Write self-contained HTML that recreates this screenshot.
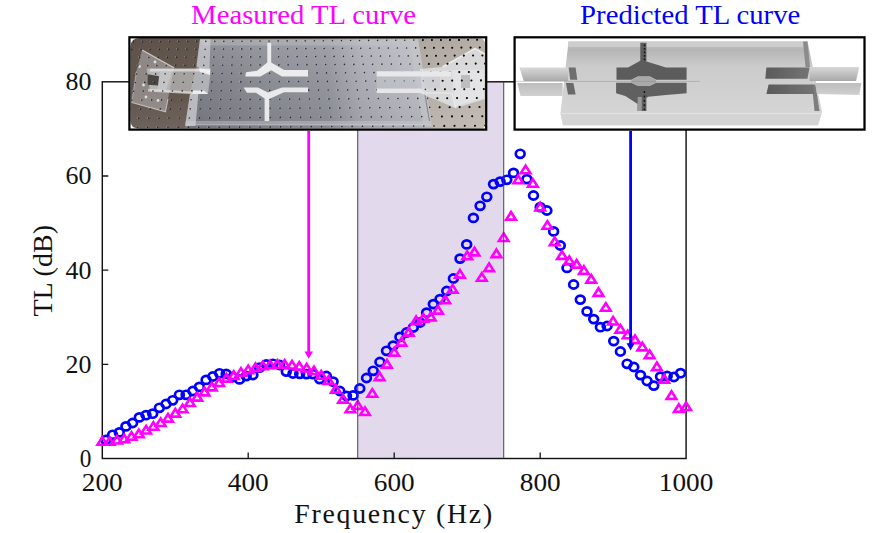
<!DOCTYPE html>
<html lang="en">
<head>
<meta charset="utf-8">
<title>Measured and predicted TL curves</title>
<style>
html,body{margin:0;padding:0;background:#fff;}
body{width:880px;height:533px;overflow:hidden;font-family:"Liberation Serif","Times New Roman",serif;}
svg{display:block;position:absolute;left:0;top:0;}
</style>
</head>
<body>
<svg width="880" height="533" viewBox="0 0 880 533">
<rect width="880" height="533" fill="#ffffff"/>
<rect x="357.7" y="81.8" width="146.0" height="376.7" fill="#e3d9ed"/>
<rect x="102.3" y="81.8" width="583.8" height="376.7" fill="none" stroke="#141414" stroke-width="1.45"/>
<path d="M248.2 458.5v-6M394.2 458.5v-6M540.2 458.5v-6M102.3 364.3h6M102.3 270.1h6M102.3 176.0h6" stroke="#141414" stroke-width="1.3" fill="none"/>
<g fill="none" stroke="#0000ff" stroke-width="2.7">
<ellipse cx="105.9" cy="440.0" rx="4.4" ry="4.05"/>
<ellipse cx="112.6" cy="434.8" rx="4.4" ry="4.05"/>
<ellipse cx="119.3" cy="432.4" rx="4.4" ry="4.05"/>
<ellipse cx="125.9" cy="426.4" rx="4.4" ry="4.05"/>
<ellipse cx="132.6" cy="423.0" rx="4.4" ry="4.05"/>
<ellipse cx="139.3" cy="417.4" rx="4.4" ry="4.05"/>
<ellipse cx="146.0" cy="415.2" rx="4.4" ry="4.05"/>
<ellipse cx="152.7" cy="413.7" rx="4.4" ry="4.05"/>
<ellipse cx="159.4" cy="407.8" rx="4.4" ry="4.05"/>
<ellipse cx="166.0" cy="404.0" rx="4.4" ry="4.05"/>
<ellipse cx="172.7" cy="400.3" rx="4.4" ry="4.05"/>
<ellipse cx="179.4" cy="394.8" rx="4.4" ry="4.05"/>
<ellipse cx="186.1" cy="394.8" rx="4.4" ry="4.05"/>
<ellipse cx="192.8" cy="391.0" rx="4.4" ry="4.05"/>
<ellipse cx="199.4" cy="386.9" rx="4.4" ry="4.05"/>
<ellipse cx="206.1" cy="379.9" rx="4.4" ry="4.05"/>
<ellipse cx="212.8" cy="376.5" rx="4.4" ry="4.05"/>
<ellipse cx="219.5" cy="373.3" rx="4.4" ry="4.05"/>
<ellipse cx="226.2" cy="373.9" rx="4.4" ry="4.05"/>
<ellipse cx="232.9" cy="377.0" rx="4.4" ry="4.05"/>
<ellipse cx="239.5" cy="379.4" rx="4.4" ry="4.05"/>
<ellipse cx="246.2" cy="376.1" rx="4.4" ry="4.05"/>
<ellipse cx="252.9" cy="375.0" rx="4.4" ry="4.05"/>
<ellipse cx="259.6" cy="367.6" rx="4.4" ry="4.05"/>
<ellipse cx="266.3" cy="364.5" rx="4.4" ry="4.05"/>
<ellipse cx="273.0" cy="363.8" rx="4.4" ry="4.05"/>
<ellipse cx="279.6" cy="365.0" rx="4.4" ry="4.05"/>
<ellipse cx="286.3" cy="371.6" rx="4.4" ry="4.05"/>
<ellipse cx="293.0" cy="373.5" rx="4.4" ry="4.05"/>
<ellipse cx="299.7" cy="373.8" rx="4.4" ry="4.05"/>
<ellipse cx="306.4" cy="374.1" rx="4.4" ry="4.05"/>
<ellipse cx="313.0" cy="374.1" rx="4.4" ry="4.05"/>
<ellipse cx="319.7" cy="379.1" rx="4.4" ry="4.05"/>
<ellipse cx="326.4" cy="376.0" rx="4.4" ry="4.05"/>
<ellipse cx="333.1" cy="381.6" rx="4.4" ry="4.05"/>
<ellipse cx="339.8" cy="391.0" rx="4.4" ry="4.05"/>
<ellipse cx="346.5" cy="396.0" rx="4.4" ry="4.05"/>
<ellipse cx="353.1" cy="395.4" rx="4.4" ry="4.05"/>
<ellipse cx="359.8" cy="388.5" rx="4.4" ry="4.05"/>
<ellipse cx="366.5" cy="378.0" rx="4.4" ry="4.05"/>
<ellipse cx="373.2" cy="370.8" rx="4.4" ry="4.05"/>
<ellipse cx="379.9" cy="362.0" rx="4.4" ry="4.05"/>
<ellipse cx="386.5" cy="350.8" rx="4.4" ry="4.05"/>
<ellipse cx="393.2" cy="345.6" rx="4.4" ry="4.05"/>
<ellipse cx="399.9" cy="336.9" rx="4.4" ry="4.05"/>
<ellipse cx="406.6" cy="332.5" rx="4.4" ry="4.05"/>
<ellipse cx="413.3" cy="327.5" rx="4.4" ry="4.05"/>
<ellipse cx="420.0" cy="322.5" rx="4.4" ry="4.05"/>
<ellipse cx="426.6" cy="312.7" rx="4.4" ry="4.05"/>
<ellipse cx="433.3" cy="304.1" rx="4.4" ry="4.05"/>
<ellipse cx="440.0" cy="299.1" rx="4.4" ry="4.05"/>
<ellipse cx="446.7" cy="291.0" rx="4.4" ry="4.05"/>
<ellipse cx="453.4" cy="278.5" rx="4.4" ry="4.05"/>
<ellipse cx="460.0" cy="258.6" rx="4.4" ry="4.05"/>
<ellipse cx="466.7" cy="244.4" rx="4.4" ry="4.05"/>
<ellipse cx="473.4" cy="217.9" rx="4.4" ry="4.05"/>
<ellipse cx="480.1" cy="205.8" rx="4.4" ry="4.05"/>
<ellipse cx="486.8" cy="196.8" rx="4.4" ry="4.05"/>
<ellipse cx="493.5" cy="184.1" rx="4.4" ry="4.05"/>
<ellipse cx="500.1" cy="181.6" rx="4.4" ry="4.05"/>
<ellipse cx="506.8" cy="179.8" rx="4.4" ry="4.05"/>
<ellipse cx="513.5" cy="172.9" rx="4.4" ry="4.05"/>
<ellipse cx="520.2" cy="153.8" rx="4.4" ry="4.05"/>
<ellipse cx="526.9" cy="179.1" rx="4.4" ry="4.05"/>
<ellipse cx="533.5" cy="195.5" rx="4.4" ry="4.05"/>
<ellipse cx="540.2" cy="207.2" rx="4.4" ry="4.05"/>
<ellipse cx="546.9" cy="210.5" rx="4.4" ry="4.05"/>
<ellipse cx="553.6" cy="231.4" rx="4.4" ry="4.05"/>
<ellipse cx="560.3" cy="245.5" rx="4.4" ry="4.05"/>
<ellipse cx="567.0" cy="267.9" rx="4.4" ry="4.05"/>
<ellipse cx="573.6" cy="284.5" rx="4.4" ry="4.05"/>
<ellipse cx="580.3" cy="299.6" rx="4.4" ry="4.05"/>
<ellipse cx="587.0" cy="311.4" rx="4.4" ry="4.05"/>
<ellipse cx="593.7" cy="319.1" rx="4.4" ry="4.05"/>
<ellipse cx="600.4" cy="327.2" rx="4.4" ry="4.05"/>
<ellipse cx="607.1" cy="326.0" rx="4.4" ry="4.05"/>
<ellipse cx="613.7" cy="341.1" rx="4.4" ry="4.05"/>
<ellipse cx="620.4" cy="351.5" rx="4.4" ry="4.05"/>
<ellipse cx="627.1" cy="363.8" rx="4.4" ry="4.05"/>
<ellipse cx="633.8" cy="367.0" rx="4.4" ry="4.05"/>
<ellipse cx="640.5" cy="375.1" rx="4.4" ry="4.05"/>
<ellipse cx="647.1" cy="381.0" rx="4.4" ry="4.05"/>
<ellipse cx="653.8" cy="385.6" rx="4.4" ry="4.05"/>
<ellipse cx="660.5" cy="376.6" rx="4.4" ry="4.05"/>
<ellipse cx="667.2" cy="376.0" rx="4.4" ry="4.05"/>
<ellipse cx="673.9" cy="377.0" rx="4.4" ry="4.05"/>
<ellipse cx="680.6" cy="373.2" rx="4.4" ry="4.05"/>
</g>
<g fill="none" stroke="#ff00ff" stroke-width="2.6" stroke-linejoin="miter">
<path d="M102.3 437.1L107.1 444.7H97.5Z"/>
<path d="M109.6 437.1L114.4 444.7H104.8Z"/>
<path d="M116.9 435.9L121.7 443.5H112.1Z"/>
<path d="M124.2 434.6L129.0 442.2H119.4Z"/>
<path d="M131.5 432.1L136.3 439.7H126.7Z"/>
<path d="M138.8 429.6L143.6 437.2H134.0Z"/>
<path d="M146.1 425.9L150.9 433.5H141.3Z"/>
<path d="M153.4 422.1L158.2 429.7H148.6Z"/>
<path d="M160.7 418.4L165.5 426.0H155.9Z"/>
<path d="M168.0 414.0L172.8 421.6H163.2Z"/>
<path d="M175.3 409.0L180.1 416.6H170.5Z"/>
<path d="M182.6 404.6L187.4 412.2H177.8Z"/>
<path d="M189.9 398.4L194.7 406.0H185.1Z"/>
<path d="M197.2 393.0L202.0 400.6H192.4Z"/>
<path d="M204.5 387.8L209.3 395.4H199.7Z"/>
<path d="M211.8 382.8L216.6 390.4H207.0Z"/>
<path d="M219.1 378.4L223.9 386.0H214.3Z"/>
<path d="M226.4 374.0L231.2 381.6H221.6Z"/>
<path d="M233.7 371.3L238.5 378.9H228.9Z"/>
<path d="M241.0 368.1L245.8 375.8H236.2Z"/>
<path d="M248.2 365.6L253.1 373.2H243.4Z"/>
<path d="M255.5 363.4L260.3 371.0H250.7Z"/>
<path d="M262.8 361.6L267.6 369.2H258.0Z"/>
<path d="M270.1 360.6L274.9 368.2H265.3Z"/>
<path d="M277.4 360.2L282.2 367.8H272.6Z"/>
<path d="M284.7 360.2L289.5 367.8H279.9Z"/>
<path d="M292.0 360.9L296.8 368.5H287.2Z"/>
<path d="M299.3 362.1L304.1 369.7H294.5Z"/>
<path d="M306.6 363.9L311.4 371.5H301.8Z"/>
<path d="M313.9 366.6L318.7 374.2H309.1Z"/>
<path d="M321.2 371.0L326.0 378.6H316.4Z"/>
<path d="M328.5 376.2L333.3 383.9H323.7Z"/>
<path d="M335.8 385.0L340.6 392.6H331.0Z"/>
<path d="M343.1 395.0L347.9 402.6H338.3Z"/>
<path d="M350.4 404.7L355.2 412.3H345.6Z"/>
<path d="M357.7 401.3L362.5 408.9H352.9Z"/>
<path d="M365.0 407.4L369.8 415.0H360.2Z"/>
<path d="M372.3 389.1L377.1 396.7H367.5Z"/>
<path d="M379.6 372.5L384.4 380.1H374.8Z"/>
<path d="M386.9 360.0L391.7 367.6H382.1Z"/>
<path d="M394.2 348.0L399.0 355.6H389.4Z"/>
<path d="M401.5 338.0L406.3 345.6H396.7Z"/>
<path d="M408.8 328.0L413.6 335.6H404.0Z"/>
<path d="M416.1 316.5L420.9 324.1H411.3Z"/>
<path d="M423.4 314.0L428.2 321.6H418.6Z"/>
<path d="M430.7 312.8L435.5 320.4H425.9Z"/>
<path d="M438.0 306.0L442.8 313.6H433.2Z"/>
<path d="M445.3 295.6L450.1 303.2H440.5Z"/>
<path d="M452.6 285.0L457.4 292.6H447.8Z"/>
<path d="M459.9 270.0L464.7 277.6H455.1Z"/>
<path d="M467.2 251.5L472.0 259.1H462.4Z"/>
<path d="M474.5 247.8L479.3 255.4H469.7Z"/>
<path d="M481.8 273.1L486.6 280.7H477.0Z"/>
<path d="M489.1 263.5L493.9 271.1H484.3Z"/>
<path d="M496.4 249.5L501.2 257.1H491.6Z"/>
<path d="M503.7 233.4L508.5 241.0H498.9Z"/>
<path d="M511.0 212.0L515.8 219.6H506.2Z"/>
<path d="M518.3 175.6L523.1 183.2H513.5Z"/>
<path d="M525.6 165.6L530.4 173.2H520.8Z"/>
<path d="M532.9 179.1L537.7 186.7H528.1Z"/>
<path d="M540.1 202.8L544.9 210.4H535.4Z"/>
<path d="M547.4 221.1L552.2 228.7H542.6Z"/>
<path d="M554.7 237.5L559.5 245.1H549.9Z"/>
<path d="M562.0 251.2L566.8 258.9H557.2Z"/>
<path d="M569.3 256.5L574.1 264.1H564.5Z"/>
<path d="M576.6 260.0L581.4 267.6H571.8Z"/>
<path d="M583.9 266.2L588.7 273.9H579.1Z"/>
<path d="M591.2 275.0L596.0 282.6H586.4Z"/>
<path d="M598.5 288.2L603.3 295.9H593.7Z"/>
<path d="M605.8 303.1L610.6 310.7H601.0Z"/>
<path d="M613.1 316.9L617.9 324.5H608.3Z"/>
<path d="M620.4 325.0L625.2 332.6H615.6Z"/>
<path d="M627.7 330.6L632.5 338.2H622.9Z"/>
<path d="M635.0 335.5L639.8 343.1H630.2Z"/>
<path d="M642.3 342.8L647.1 350.4H637.5Z"/>
<path d="M649.6 350.5L654.4 358.1H644.8Z"/>
<path d="M656.9 362.5L661.7 370.1H652.1Z"/>
<path d="M664.2 375.0L669.0 382.6H659.4Z"/>
<path d="M671.5 391.2L676.3 398.9H666.7Z"/>
<path d="M678.8 404.2L683.6 411.9H674.0Z"/>
<path d="M686.1 402.4L690.9 410.0H681.3Z"/>
</g>
<path d="M357.7 81.8V458.5M503.7 81.8V458.5" stroke="#3c3840" stroke-width="1.1" opacity="0.85" fill="none"/>
<path d="M308.7 131V352" stroke="#ff00ff" stroke-width="2.8" fill="none"/>
<path d="M304.4 351.5H313L308.7 358.8Z" fill="#ff00ff"/>
<path d="M630.6 131V344" stroke="#0000ff" stroke-width="2.8" fill="none"/>
<path d="M626.5 343.2H634.7L630.6 350.6Z" fill="#0000ff"/>
<defs>
<clipPath id="clipL"><path d="M140.2 38H478.3Q485.3 38 485.3 45V123.3Q485.3 128.6 480 128.6H139.2Q130.4 128.6 130.4 120.6V47Q130.4 38 140.2 38Z"/></clipPath>
<linearGradient id="bgL" gradientUnits="userSpaceOnUse" x1="130" y1="0" x2="486" y2="0"><stop offset="0" stop-color="#5f534c"/><stop offset="0.25" stop-color="#64584f"/><stop offset="0.8" stop-color="#b4ada6"/><stop offset="1" stop-color="#bdb6af"/></linearGradient>
<linearGradient id="bgLv" x1="0" y1="0" x2="0" y2="1"><stop offset="0" stop-color="#000" stop-opacity="0.05"/><stop offset="0.6" stop-color="#fff" stop-opacity="0"/><stop offset="1" stop-color="#fff" stop-opacity="0.10"/></linearGradient>
<linearGradient id="boxL" gradientUnits="userSpaceOnUse" x1="186" y1="0" x2="430" y2="0"><stop offset="0" stop-color="#777981"/><stop offset="0.35" stop-color="#868890"/><stop offset="0.58" stop-color="#8e9098"/><stop offset="0.72" stop-color="#a6a8b0"/><stop offset="0.88" stop-color="#b2b4bc"/><stop offset="1" stop-color="#b8bac0"/></linearGradient>
<linearGradient id="boxLv" x1="0" y1="0" x2="0" y2="1"><stop offset="0" stop-color="#ffffff" stop-opacity="0.16"/><stop offset="0.5" stop-color="#ffffff" stop-opacity="0.04"/><stop offset="1" stop-color="#000000" stop-opacity="0.05"/></linearGradient>
<filter id="blurL" x="-2%" y="-5%" width="104%" height="110%"><feGaussianBlur stdDeviation="0.55"/></filter>
</defs>
<rect x="129.3" y="37.2" width="357.3" height="92.5" fill="#ffffff"/>
<g clip-path="url(#clipL)"><g filter="url(#blurL)">
<rect x="126" y="34" width="364" height="99" fill="url(#bgL)"/>
<rect x="126" y="34" width="364" height="99" fill="url(#bgLv)"/>
<path d="M200 39.3H418L433 130H184.5L190 94L196.5 66Z" fill="url(#boxL)"/>
<path d="M200 39.3H418L433 130H184.5L190 94L196.5 66Z" fill="url(#boxLv)"/>
<path d="M200 39.3H418L419 45.5H203Z" fill="#c6c6ca" opacity="0.38"/>
<path d="M186 121H431L431.6 124.6H185.4Z" fill="#cfcfd3" opacity="0.4"/>
<path d="M186 124.8H431.5" stroke="#f0f0f2" stroke-width="0.9" opacity="0.55" fill="none"/>
<path d="M200 39.3L210.5 39.3L209.5 70L199 68L196.5 66Z" fill="#cfcfd3" opacity="0.7"/>
<path d="M190 94L198.5 92L195.5 126H185Z" fill="#d0d0d4" opacity="0.75"/>
<path d="M409 39.3H418L432.2 126.8H423.5Z" fill="#c4c4c8" opacity="0.65"/>
<path d="M424.5 92L429.5 121" stroke="#6c6c72" stroke-width="1.1" opacity="0.7" fill="none"/>
<path d="M142.1 50L174 67.8L165.5 111.9L131.7 102.5L136.4 71.5Z" fill="#d0d0d4" opacity="0.42"/>
<path d="M142.1 50L174 67.8" stroke="#f0f0f0" stroke-width="1.2" fill="none" opacity="0.7"/>
<path d="M131.7 102.5L165.5 111.9L168 99" stroke="#ececec" stroke-width="1.1" fill="none" opacity="0.6"/>
<path d="M136.4 71.5L131.7 102.5" stroke="#ececec" stroke-width="1.0" fill="none" opacity="0.45"/>
<path d="M146.8 68.5H211L208 94L150 91.5Z" fill="#d2d2d6" opacity="0.6"/>
<path d="M150 68.8H210V71.6H150Z" fill="#f2f2f2" opacity="0.6"/>
<path d="M148 88.7L192 91.5V94.3L148 91.5Z" fill="#f0f0f0" opacity="0.55"/>
<path d="M160 72H172L166 90H157Z" fill="#e8e8ea" opacity="0.3"/>
<path d="M147.7 74.3L159 76.2L158 85.6L147.7 84.7Z" fill="#4a4440"/>
<path d="M199 68L210 70L210 75L200 72Z" fill="#f4f4f4" opacity="0.9"/>
<path d="M193 90.5H204L208 94H192Z" fill="#f4f4f4" opacity="0.9"/>
<circle cx="139.5" cy="66.5" r="1.4" fill="#f3f3f3" opacity="0.8"/>
<circle cx="143.5" cy="85" r="1.4" fill="#f3f3f3" opacity="0.8"/>
<circle cx="146" cy="97" r="1.4" fill="#f3f3f3" opacity="0.8"/>
<circle cx="158" cy="100.5" r="1.4" fill="#f3f3f3" opacity="0.8"/>
<circle cx="155" cy="62" r="1.4" fill="#f3f3f3" opacity="0.8"/>
<path d="M420 69L442.5 66.9L475 48.5L484.7 53.9V99.3L455.5 108L422 94Z" fill="#eef0f5" opacity="0.62"/>
<path d="M452 70H484V98L455 106Z" fill="#f4f6fa" opacity="0.35"/>
<path d="M442.5 66.9L475 48.5L484.7 53.9" stroke="#f8f8fa" stroke-width="1.4" fill="none" opacity="0.85"/>
<path d="M421 93H452L455.5 108" stroke="#f4f4f6" stroke-width="1.2" fill="none" opacity="0.7"/>
<path d="M461 75H470V88H461Z" fill="#8e8e92" opacity="0.45"/>
<path d="M136.2 127.3h0M146.4 127.3h0M156.6 127.2h0M166.9 127.2h0M177.1 127.1h0M187.3 127.0h0M197.6 127.0h0M207.8 126.9h0M218.1 126.9h0M228.3 126.8h0M238.5 126.7h0M248.8 126.7h0M259.0 126.6h0M269.2 126.5h0M279.5 126.5h0M289.7 126.4h0M299.9 126.4h0M310.2 126.3h0M320.4 126.2h0M330.7 126.2h0M340.9 126.1h0M351.1 126.1h0M361.4 126.0h0M371.6 125.9h0M381.8 125.9h0M392.1 125.8h0M402.3 125.7h0M412.5 125.7h0M422.8 125.6h0M433.0 125.6h0M443.3 125.5h0M453.5 125.4h0M463.7 125.4h0M474.0 125.3h0M484.2 125.3h0M127.6 118.0h0M137.7 117.9h0M147.8 117.9h0M157.9 117.8h0M168.0 117.8h0M178.2 117.7h0M188.3 117.6h0M198.4 117.6h0M208.5 117.5h0M218.6 117.4h0M228.7 117.4h0M238.8 117.3h0M248.9 117.3h0M259.0 117.2h0M269.1 117.1h0M279.2 117.1h0M289.3 117.0h0M299.4 117.0h0M309.5 116.9h0M319.6 116.8h0M329.7 116.8h0M339.8 116.7h0M350.0 116.7h0M360.1 116.6h0M370.2 116.5h0M380.3 116.5h0M390.4 116.4h0M400.5 116.4h0M410.6 116.3h0M420.7 116.2h0M430.8 116.2h0M440.9 116.1h0M451.0 116.1h0M461.1 116.0h0M471.2 115.9h0M481.3 115.9h0M129.3 108.8h0M139.3 108.7h0M149.2 108.6h0M159.2 108.6h0M169.2 108.5h0M179.2 108.5h0M189.2 108.4h0M199.1 108.3h0M209.1 108.3h0M219.1 108.2h0M229.1 108.2h0M239.0 108.1h0M249.0 108.0h0M259.0 108.0h0M269.0 107.9h0M279.0 107.9h0M288.9 107.8h0M298.9 107.7h0M308.9 107.7h0M318.9 107.6h0M328.8 107.6h0M338.8 107.5h0M348.8 107.4h0M358.8 107.4h0M368.8 107.3h0M378.7 107.3h0M388.7 107.2h0M398.7 107.1h0M408.7 107.1h0M418.7 107.0h0M428.6 107.0h0M438.6 106.9h0M448.6 106.8h0M458.6 106.8h0M468.5 106.7h0M478.5 106.7h0M488.5 106.6h0M130.9 99.7h0M140.8 99.7h0M150.6 99.6h0M160.5 99.5h0M170.3 99.5h0M180.2 99.4h0M190.0 99.4h0M199.9 99.3h0M209.7 99.2h0M219.6 99.2h0M229.4 99.1h0M239.3 99.1h0M249.1 99.0h0M259.0 98.9h0M268.9 98.9h0M278.7 98.8h0M288.6 98.8h0M298.4 98.7h0M308.3 98.7h0M318.1 98.6h0M328.0 98.5h0M337.8 98.5h0M347.7 98.4h0M357.5 98.4h0M367.4 98.3h0M377.2 98.2h0M387.1 98.2h0M396.9 98.1h0M406.8 98.1h0M416.7 98.0h0M426.5 97.9h0M436.4 97.9h0M446.2 97.8h0M456.1 97.8h0M465.9 97.7h0M475.8 97.6h0M485.6 97.6h0M132.5 90.8h0M142.2 90.8h0M152.0 90.7h0M161.7 90.7h0M171.4 90.6h0M181.2 90.6h0M190.9 90.5h0M200.6 90.4h0M210.3 90.4h0M220.1 90.3h0M229.8 90.3h0M239.5 90.2h0M249.3 90.1h0M259.0 90.1h0M268.7 90.0h0M278.5 90.0h0M288.2 89.9h0M297.9 89.9h0M307.7 89.8h0M317.4 89.7h0M327.1 89.7h0M336.8 89.6h0M346.6 89.6h0M356.3 89.5h0M366.0 89.4h0M375.8 89.4h0M385.5 89.3h0M395.2 89.3h0M405.0 89.2h0M414.7 89.2h0M424.4 89.1h0M434.1 89.0h0M443.9 89.0h0M453.6 88.9h0M463.3 88.9h0M473.1 88.8h0M482.8 88.7h0M134.1 82.2h0M143.7 82.1h0M153.3 82.0h0M162.9 82.0h0M172.5 81.9h0M182.1 81.9h0M191.7 81.8h0M201.3 81.8h0M210.9 81.7h0M220.6 81.6h0M230.2 81.6h0M239.8 81.5h0M249.4 81.5h0M259.0 81.4h0M268.6 81.3h0M278.2 81.3h0M287.8 81.2h0M297.4 81.2h0M307.1 81.1h0M316.7 81.1h0M326.3 81.0h0M335.9 80.9h0M345.5 80.9h0M355.1 80.8h0M364.7 80.8h0M374.3 80.7h0M383.9 80.7h0M393.5 80.6h0M403.2 80.5h0M412.8 80.5h0M422.4 80.4h0M432.0 80.4h0M441.6 80.3h0M451.2 80.3h0M460.8 80.2h0M470.4 80.1h0M480.0 80.1h0M126.1 73.7h0M135.6 73.6h0M145.1 73.6h0M154.6 73.5h0M164.1 73.5h0M173.6 73.4h0M183.1 73.4h0M192.6 73.3h0M202.0 73.2h0M211.5 73.2h0M221.0 73.1h0M230.5 73.1h0M240.0 73.0h0M249.5 73.0h0M259.0 72.9h0M268.5 72.8h0M278.0 72.8h0M287.5 72.7h0M297.0 72.7h0M306.5 72.6h0M316.0 72.6h0M325.4 72.5h0M334.9 72.5h0M344.4 72.4h0M353.9 72.3h0M363.4 72.3h0M372.9 72.2h0M382.4 72.2h0M391.9 72.1h0M401.4 72.1h0M410.9 72.0h0M420.4 71.9h0M429.9 71.9h0M439.4 71.8h0M448.9 71.8h0M458.3 71.7h0M467.8 71.7h0M477.3 71.6h0M486.8 71.5h0M127.7 65.4h0M137.1 65.3h0M146.5 65.3h0M155.8 65.2h0M165.2 65.1h0M174.6 65.1h0M184.0 65.0h0M193.4 65.0h0M202.7 64.9h0M212.1 64.9h0M221.5 64.8h0M230.9 64.8h0M240.2 64.7h0M249.6 64.6h0M259.0 64.6h0M268.4 64.5h0M277.8 64.5h0M287.1 64.4h0M296.5 64.4h0M305.9 64.3h0M315.3 64.2h0M324.6 64.2h0M334.0 64.1h0M343.4 64.1h0M352.8 64.0h0M362.2 64.0h0M371.5 63.9h0M380.9 63.9h0M390.3 63.8h0M399.7 63.7h0M409.0 63.7h0M418.4 63.6h0M427.8 63.6h0M437.2 63.5h0M446.5 63.5h0M455.9 63.4h0M465.3 63.3h0M474.7 63.3h0M484.1 63.2h0M129.3 57.2h0M138.6 57.2h0M147.8 57.1h0M157.1 57.1h0M166.4 57.0h0M175.6 56.9h0M184.9 56.9h0M194.1 56.8h0M203.4 56.8h0M212.7 56.7h0M221.9 56.7h0M231.2 56.6h0M240.5 56.6h0M249.7 56.5h0M259.0 56.4h0M268.3 56.4h0M277.5 56.3h0M286.8 56.3h0M296.1 56.2h0M305.3 56.2h0M314.6 56.1h0M323.9 56.1h0M333.1 56.0h0M342.4 55.9h0M351.6 55.9h0M360.9 55.8h0M370.2 55.8h0M379.4 55.7h0M388.7 55.7h0M398.0 55.6h0M407.2 55.6h0M416.5 55.5h0M425.8 55.4h0M435.0 55.4h0M444.3 55.3h0M453.6 55.3h0M462.8 55.2h0M472.1 55.2h0M481.4 55.1h0M130.8 49.3h0M140.0 49.2h0M149.1 49.1h0M158.3 49.1h0M167.5 49.0h0M176.6 49.0h0M185.8 48.9h0M194.9 48.9h0M204.1 48.8h0M213.2 48.8h0M222.4 48.7h0M231.5 48.7h0M240.7 48.6h0M249.8 48.5h0M259.0 48.5h0M268.2 48.4h0M277.3 48.4h0M286.5 48.3h0M295.6 48.3h0M304.8 48.2h0M313.9 48.2h0M323.1 48.1h0M332.2 48.0h0M341.4 48.0h0M350.5 47.9h0M359.7 47.9h0M368.9 47.8h0M378.0 47.8h0M387.2 47.7h0M396.3 47.7h0M405.5 47.6h0M414.6 47.6h0M423.8 47.5h0M432.9 47.4h0M442.1 47.4h0M451.2 47.3h0M460.4 47.3h0M469.6 47.2h0M478.7 47.2h0M487.9 47.1h0M132.3 41.5h0M141.4 41.4h0M150.4 41.4h0M159.5 41.3h0M168.5 41.2h0M177.6 41.2h0M186.6 41.1h0M195.7 41.1h0M204.7 41.0h0M213.8 41.0h0M222.8 40.9h0M231.9 40.9h0M240.9 40.8h0M250.0 40.8h0M259.0 40.7h0M268.0 40.7h0M277.1 40.6h0M286.1 40.5h0M295.2 40.5h0M304.2 40.4h0M313.3 40.4h0M322.3 40.3h0M331.4 40.3h0M340.4 40.2h0M349.5 40.2h0M358.5 40.1h0M367.6 40.1h0M376.6 40.0h0M385.7 39.9h0M394.7 39.9h0M403.7 39.8h0M412.8 39.8h0M421.8 39.7h0M430.9 39.7h0M439.9 39.6h0M449.0 39.6h0M458.0 39.5h0M467.1 39.5h0M476.1 39.4h0M485.2 39.3h0" stroke="#e9e6e2" stroke-width="1.3" stroke-linecap="round" opacity="0.45" fill="none"/>
<path d="M137.2 127.7h0M147.4 127.6h0M157.6 127.6h0M167.9 127.5h0M178.1 127.4h0M188.3 127.4h0M198.6 127.3h0M208.8 127.3h0M219.1 127.2h0M229.3 127.1h0M239.5 127.1h0M249.8 127.0h0M260.0 127.0h0M270.2 126.9h0M280.5 126.8h0M290.7 126.8h0M300.9 126.7h0M311.2 126.6h0M321.4 126.6h0M331.7 126.5h0M341.9 126.5h0M352.1 126.4h0M362.4 126.3h0M372.6 126.3h0M382.8 126.2h0M393.1 126.2h0M403.3 126.1h0M413.5 126.0h0M423.8 126.0h0M434.0 125.9h0M444.3 125.9h0M454.5 125.8h0M464.7 125.7h0M475.0 125.7h0M485.2 125.6h0M128.6 118.3h0M138.7 118.3h0M148.8 118.2h0M158.9 118.2h0M169.0 118.1h0M179.2 118.0h0M189.3 118.0h0M199.4 117.9h0M209.5 117.9h0M219.6 117.8h0M229.7 117.7h0M239.8 117.7h0M249.9 117.6h0M260.0 117.6h0M270.1 117.5h0M280.2 117.4h0M290.3 117.4h0M300.4 117.3h0M310.5 117.3h0M320.6 117.2h0M330.7 117.1h0M340.8 117.1h0M351.0 117.0h0M361.1 116.9h0M371.2 116.9h0M381.3 116.8h0M391.4 116.8h0M401.5 116.7h0M411.6 116.6h0M421.7 116.6h0M431.8 116.5h0M441.9 116.5h0M452.0 116.4h0M462.1 116.3h0M472.2 116.3h0M482.3 116.2h0M130.3 109.1h0M140.3 109.1h0M150.2 109.0h0M160.2 108.9h0M170.2 108.9h0M180.2 108.8h0M190.2 108.8h0M200.1 108.7h0M210.1 108.6h0M220.1 108.6h0M230.1 108.5h0M240.0 108.5h0M250.0 108.4h0M260.0 108.3h0M270.0 108.3h0M280.0 108.2h0M289.9 108.2h0M299.9 108.1h0M309.9 108.0h0M319.9 108.0h0M329.8 107.9h0M339.8 107.9h0M349.8 107.8h0M359.8 107.7h0M369.8 107.7h0M379.7 107.6h0M389.7 107.6h0M399.7 107.5h0M409.7 107.4h0M419.7 107.4h0M429.6 107.3h0M439.6 107.3h0M449.6 107.2h0M459.6 107.1h0M469.5 107.1h0M479.5 107.0h0M489.5 107.0h0M131.9 100.1h0M141.8 100.0h0M151.6 99.9h0M161.5 99.9h0M171.3 99.8h0M181.2 99.8h0M191.0 99.7h0M200.9 99.7h0M210.7 99.6h0M220.6 99.5h0M230.4 99.5h0M240.3 99.4h0M250.1 99.4h0M260.0 99.3h0M269.9 99.2h0M279.7 99.2h0M289.6 99.1h0M299.4 99.1h0M309.3 99.0h0M319.1 98.9h0M329.0 98.9h0M338.8 98.8h0M348.7 98.8h0M358.5 98.7h0M368.4 98.6h0M378.2 98.6h0M388.1 98.5h0M397.9 98.5h0M407.8 98.4h0M417.7 98.4h0M427.5 98.3h0M437.4 98.2h0M447.2 98.2h0M457.1 98.1h0M466.9 98.1h0M476.8 98.0h0M486.6 97.9h0M133.5 91.2h0M143.2 91.1h0M153.0 91.1h0M162.7 91.0h0M172.4 91.0h0M182.2 90.9h0M191.9 90.8h0M201.6 90.8h0M211.3 90.7h0M221.1 90.7h0M230.8 90.6h0M240.5 90.6h0M250.3 90.5h0M260.0 90.4h0M269.7 90.4h0M279.5 90.3h0M289.2 90.3h0M298.9 90.2h0M308.7 90.1h0M318.4 90.1h0M328.1 90.0h0M337.8 90.0h0M347.6 89.9h0M357.3 89.9h0M367.0 89.8h0M376.8 89.7h0M386.5 89.7h0M396.2 89.6h0M406.0 89.6h0M415.7 89.5h0M425.4 89.4h0M435.1 89.4h0M444.9 89.3h0M454.6 89.3h0M464.3 89.2h0M474.1 89.2h0M483.8 89.1h0M135.1 82.5h0M144.7 82.4h0M154.3 82.4h0M163.9 82.3h0M173.5 82.3h0M183.1 82.2h0M192.7 82.2h0M202.3 82.1h0M211.9 82.0h0M221.6 82.0h0M231.2 81.9h0M240.8 81.9h0M250.4 81.8h0M260.0 81.8h0M269.6 81.7h0M279.2 81.6h0M288.8 81.6h0M298.4 81.5h0M308.1 81.5h0M317.7 81.4h0M327.3 81.4h0M336.9 81.3h0M346.5 81.2h0M356.1 81.2h0M365.7 81.1h0M375.3 81.1h0M384.9 81.0h0M394.5 80.9h0M404.2 80.9h0M413.8 80.8h0M423.4 80.8h0M433.0 80.7h0M442.6 80.7h0M452.2 80.6h0M461.8 80.5h0M471.4 80.5h0M481.0 80.4h0M127.1 74.1h0M136.6 74.0h0M146.1 73.9h0M155.6 73.9h0M165.1 73.8h0M174.6 73.8h0M184.1 73.7h0M193.6 73.7h0M203.0 73.6h0M212.5 73.5h0M222.0 73.5h0M231.5 73.4h0M241.0 73.4h0M250.5 73.3h0M260.0 73.3h0M269.5 73.2h0M279.0 73.1h0M288.5 73.1h0M298.0 73.0h0M307.5 73.0h0M317.0 72.9h0M326.4 72.9h0M335.9 72.8h0M345.4 72.7h0M354.9 72.7h0M364.4 72.6h0M373.9 72.6h0M383.4 72.5h0M392.9 72.5h0M402.4 72.4h0M411.9 72.3h0M421.4 72.3h0M430.9 72.2h0M440.4 72.2h0M449.9 72.1h0M459.3 72.1h0M468.8 72.0h0M478.3 71.9h0M487.8 71.9h0M128.7 65.7h0M138.1 65.7h0M147.5 65.6h0M156.8 65.6h0M166.2 65.5h0M175.6 65.4h0M185.0 65.4h0M194.4 65.3h0M203.7 65.3h0M213.1 65.2h0M222.5 65.2h0M231.9 65.1h0M241.2 65.0h0M250.6 65.0h0M260.0 64.9h0M269.4 64.9h0M278.8 64.8h0M288.1 64.8h0M297.5 64.7h0M306.9 64.7h0M316.3 64.6h0M325.6 64.5h0M335.0 64.5h0M344.4 64.4h0M353.8 64.4h0M363.2 64.3h0M372.5 64.3h0M381.9 64.2h0M391.3 64.1h0M400.7 64.1h0M410.0 64.0h0M419.4 64.0h0M428.8 63.9h0M438.2 63.9h0M447.5 63.8h0M456.9 63.8h0M466.3 63.7h0M475.7 63.6h0M485.1 63.6h0M130.3 57.6h0M139.6 57.5h0M148.8 57.5h0M158.1 57.4h0M167.4 57.4h0M176.6 57.3h0M185.9 57.2h0M195.1 57.2h0M204.4 57.1h0M213.7 57.1h0M222.9 57.0h0M232.2 57.0h0M241.5 56.9h0M250.7 56.9h0M260.0 56.8h0M269.3 56.7h0M278.5 56.7h0M287.8 56.6h0M297.1 56.6h0M306.3 56.5h0M315.6 56.5h0M324.9 56.4h0M334.1 56.4h0M343.4 56.3h0M352.6 56.2h0M361.9 56.2h0M371.2 56.1h0M380.4 56.1h0M389.7 56.0h0M399.0 56.0h0M408.2 55.9h0M417.5 55.9h0M426.8 55.8h0M436.0 55.7h0M445.3 55.7h0M454.6 55.6h0M463.8 55.6h0M473.1 55.5h0M482.4 55.5h0M131.8 49.6h0M141.0 49.6h0M150.1 49.5h0M159.3 49.4h0M168.5 49.4h0M177.6 49.3h0M186.8 49.3h0M195.9 49.2h0M205.1 49.2h0M214.2 49.1h0M223.4 49.1h0M232.5 49.0h0M241.7 48.9h0M250.8 48.9h0M260.0 48.8h0M269.2 48.8h0M278.3 48.7h0M287.5 48.7h0M296.6 48.6h0M305.8 48.6h0M314.9 48.5h0M324.1 48.5h0M333.2 48.4h0M342.4 48.3h0M351.5 48.3h0M360.7 48.2h0M369.9 48.2h0M379.0 48.1h0M388.2 48.1h0M397.3 48.0h0M406.5 48.0h0M415.6 47.9h0M424.8 47.8h0M433.9 47.8h0M443.1 47.7h0M452.2 47.7h0M461.4 47.6h0M470.6 47.6h0M479.7 47.5h0M488.9 47.5h0M133.3 41.8h0M142.4 41.8h0M151.4 41.7h0M160.5 41.7h0M169.5 41.6h0M178.6 41.5h0M187.6 41.5h0M196.7 41.4h0M205.7 41.4h0M214.8 41.3h0M223.8 41.3h0M232.9 41.2h0M241.9 41.2h0M251.0 41.1h0M260.0 41.1h0M269.0 41.0h0M278.1 40.9h0M287.1 40.9h0M296.2 40.8h0M305.2 40.8h0M314.3 40.7h0M323.3 40.7h0M332.4 40.6h0M341.4 40.6h0M350.5 40.5h0M359.5 40.5h0M368.6 40.4h0M377.6 40.4h0M386.7 40.3h0M395.7 40.2h0M404.7 40.2h0M413.8 40.1h0M422.8 40.1h0M431.9 40.0h0M440.9 40.0h0M450.0 39.9h0M459.0 39.9h0M468.1 39.8h0M477.1 39.8h0M486.2 39.7h0" stroke="#1f1d23" stroke-width="1.65" stroke-linecap="round" opacity="0.9" fill="none"/>
<path d="M444.3 125.9h0M454.5 125.8h0M464.7 125.7h0M475.0 125.7h0M485.2 125.6h0M441.9 116.5h0M452.0 116.4h0M462.1 116.3h0M472.2 116.3h0M482.3 116.2h0M439.6 107.3h0M449.6 107.2h0M459.6 107.1h0M469.5 107.1h0M479.5 107.0h0M489.5 107.0h0M437.4 98.2h0M447.2 98.2h0M457.1 98.1h0M466.9 98.1h0M476.8 98.0h0M486.6 97.9h0M435.1 89.4h0M444.9 89.3h0M454.6 89.3h0M464.3 89.2h0M474.1 89.2h0M483.8 89.1h0M433.0 80.7h0M442.6 80.7h0M452.2 80.6h0M461.8 80.5h0M471.4 80.5h0M481.0 80.4h0M430.9 72.2h0M440.4 72.2h0M449.9 72.1h0M459.3 72.1h0M468.8 72.0h0M478.3 71.9h0M487.8 71.9h0M428.8 63.9h0M438.2 63.9h0M447.5 63.8h0M456.9 63.8h0M466.3 63.7h0M475.7 63.6h0M485.1 63.6h0M426.8 55.8h0M436.0 55.7h0M445.3 55.7h0M454.6 55.6h0M463.8 55.6h0M473.1 55.5h0M482.4 55.5h0M424.8 47.8h0M433.9 47.8h0M443.1 47.7h0M452.2 47.7h0M461.4 47.6h0M470.6 47.6h0M479.7 47.5h0M488.9 47.5h0M422.8 40.1h0M431.9 40.0h0M440.9 40.0h0M450.0 39.9h0M459.0 39.9h0M468.1 39.8h0M477.1 39.8h0M486.2 39.7h0" stroke="#0e0d10" stroke-width="2.1" stroke-linecap="round" fill="none"/>
<path d="M267.3 43H271.2V62.6L284.1 70.1H308V76.6H282L271.2 70.3L260.4 76.6H245.3L246 72.3L257.1 70.8L267.3 62.6Z" fill="#ececee"/>
<path d="M243.5 87.4H258L268 92.6L282 87.4H308V92.2H284L269.2 99V121H264.6V98.5L256 92.8H247Z" fill="#e9e9eb"/>
<path d="M376.7 76.4H440V88.5H376.7Z" fill="#c6c8ce" opacity="0.5"/>
<path d="M376.7 71.2H451V76.4H376.7Z" fill="#e8e8ea"/>
<path d="M376.7 88.5H421L424 93H376.7Z" fill="#e6e6e8"/>
</g></g>
<rect x="129.4" y="37.3" width="356.8" height="92.3" fill="none" stroke="#000" stroke-width="2.25"/>
<defs>
<clipPath id="clipR"><rect x="515.2" y="38.1" width="348.6" height="90.7"/></clipPath>
<linearGradient id="floorR" x1="0" y1="0" x2="0" y2="1"><stop offset="0" stop-color="#c6c6c6"/><stop offset="0.10" stop-color="#b6b6b6"/><stop offset="0.3" stop-color="#cbcbcb"/><stop offset="0.85" stop-color="#d5d5d5"/><stop offset="1" stop-color="#d8d8d8"/></linearGradient>
<linearGradient id="flapU" x1="0" y1="0" x2="0" y2="1"><stop offset="0" stop-color="#d8d8d8"/><stop offset="1" stop-color="#a9a9a9"/></linearGradient>
<linearGradient id="flapD" x1="0" y1="0" x2="0" y2="1"><stop offset="0" stop-color="#bdbdbd"/><stop offset="1" stop-color="#d0d0d0"/></linearGradient>
<linearGradient id="darkH" x1="0" y1="0" x2="1" y2="0"><stop offset="0" stop-color="#5a5a5a"/><stop offset="1" stop-color="#747474"/></linearGradient>
<filter id="blurR" x="-2%" y="-5%" width="104%" height="110%"><feGaussianBlur stdDeviation="0.45"/></filter>
</defs>
<rect x="514.3" y="37.2" width="350.4" height="92.5" fill="#ffffff"/>
<g clip-path="url(#clipR)"><g filter="url(#blurR)">
<path d="M568.5 41.4H807.5L822 112L818 125.3H563L560.5 113.5Z" fill="url(#floorR)"/>
<path d="M568.5 41.4H807.5L808.5 47H568Z" fill="#cdcdcd"/>
<path d="M560.5 113.5H821.6L818 125.3H563Z" fill="#d4d4d4"/>
<path d="M560.5 113.5H821.6" stroke="#e4e4e4" stroke-width="1" fill="none"/>
<path d="M803 41.4H807.5L810 66.9H805.5Z" fill="#8c8c8c"/>
<path d="M812 84.6H815.5L819.5 111H814.5Z" fill="#7d7d7d"/>
<path d="M519.4 67.5H568V81H523.8Z" fill="url(#flapU)"/>
<path d="M517.3 83H562.6V96H520.5Z" fill="url(#flapD)"/>
<path d="M568.7 67.5H575.6L577.3 79.8H570.2Z" fill="#6e6e6e"/>
<path d="M565.9 83H573.4L575.6 94.5H568Z" fill="#6a6a6a"/>
<path d="M809.6 66.9H859.3L856 81H809.6Z" fill="url(#flapU)"/>
<path d="M815 83H861.4L859.3 95L817.1 93.9Z" fill="url(#flapD)"/>
<path d="M766.4 67.5H809.6L807.4 78.8H765.3Z" fill="url(#darkH)"/>
<path d="M768.6 84.6H812.8L815 93.9H766.4Z" fill="url(#darkH)"/>
<path d="M640.3 42.7H646.4V61.6L658 65L665.8 67.4H686.6V79.7H656.1L650 76.6H637.6L631.4 79.7H616.5V67.4H628L640.3 60.7Z" fill="#5b5b5b"/>
<path d="M616.1 82.7H631.4L637.6 85.8H650L656.1 82.7H686.6V93.3L665.8 95.1L648.2 96.8L646.4 98V111H637.6V103.9L632.3 100.4L625.3 96L616.1 93.3Z" fill="#606060"/>
<path d="M637.6 97H641.8V111H637.6Z" fill="#9a9a9a"/>
<path d="M631.4 79.7L637.6 76.6H650L656.1 79.7V82.7L650 85.8H637.6L631.4 82.7Z" fill="#a9a9a9"/>
<path d="M644.6 44.5v16.5" stroke="#141414" stroke-width="1.5" stroke-dasharray="1.7 1.8" fill="none"/>
<path d="M644.4 91v19" stroke="#141414" stroke-width="1.5" stroke-dasharray="2 2.4" fill="none"/>
<path d="M516 81.4H700" stroke="#8a8a8a" stroke-width="0.7" opacity="0.6" fill="none"/>
</g></g>
<rect x="514.6" y="37.3" width="349.9" height="92.3" fill="none" stroke="#000" stroke-width="2.25"/>
<text x="303.6" y="23.6" font-family="'Liberation Serif', 'Times New Roman', serif" font-size="26.4" fill="#ff00ff" text-anchor="middle" textLength="225" lengthAdjust="spacingAndGlyphs">Measured TL curve</text>
<text x="690.2" y="23.6" font-family="'Liberation Serif', 'Times New Roman', serif" font-size="26.4" fill="#0000ff" text-anchor="middle" textLength="220.2" lengthAdjust="spacingAndGlyphs">Predicted TL curve</text>
<text x="85.6" y="467.2" font-family="'Liberation Serif', 'Times New Roman', serif" font-size="24.5" fill="#111" text-anchor="middle" textLength="11.6" lengthAdjust="spacingAndGlyphs">0</text>
<text x="78.5" y="372.9" font-family="'Liberation Serif', 'Times New Roman', serif" font-size="24.5" fill="#111" text-anchor="middle" textLength="25.9" lengthAdjust="spacingAndGlyphs">20</text>
<text x="78.5" y="278.6" font-family="'Liberation Serif', 'Times New Roman', serif" font-size="24.5" fill="#111" text-anchor="middle" textLength="25.9" lengthAdjust="spacingAndGlyphs">40</text>
<text x="78.5" y="184.3" font-family="'Liberation Serif', 'Times New Roman', serif" font-size="24.5" fill="#111" text-anchor="middle" textLength="25.9" lengthAdjust="spacingAndGlyphs">60</text>
<text x="78.5" y="90.0" font-family="'Liberation Serif', 'Times New Roman', serif" font-size="24.5" fill="#111" text-anchor="middle" textLength="25.9" lengthAdjust="spacingAndGlyphs">80</text>
<text x="102.3" y="490.5" font-family="'Liberation Serif', 'Times New Roman', serif" font-size="24.6" fill="#111" text-anchor="middle" textLength="40.9" lengthAdjust="spacingAndGlyphs">200</text>
<text x="248.2" y="490.5" font-family="'Liberation Serif', 'Times New Roman', serif" font-size="24.6" fill="#111" text-anchor="middle" textLength="40.9" lengthAdjust="spacingAndGlyphs">400</text>
<text x="394.2" y="490.5" font-family="'Liberation Serif', 'Times New Roman', serif" font-size="24.6" fill="#111" text-anchor="middle" textLength="40.9" lengthAdjust="spacingAndGlyphs">600</text>
<text x="540.2" y="490.5" font-family="'Liberation Serif', 'Times New Roman', serif" font-size="24.6" fill="#111" text-anchor="middle" textLength="40.9" lengthAdjust="spacingAndGlyphs">800</text>
<text x="686.1" y="490.5" font-family="'Liberation Serif', 'Times New Roman', serif" font-size="24.6" fill="#111" text-anchor="middle" textLength="54.5" lengthAdjust="spacingAndGlyphs">1000</text>
<text x="393.2" y="522.5" font-family="'Liberation Serif', 'Times New Roman', serif" font-size="27.8" fill="#111" text-anchor="middle" textLength="198" lengthAdjust="spacing">Frequency (Hz)</text>
<text transform="translate(52.3 270.8) rotate(-90)" x="0" y="0" font-family="'Liberation Serif', 'Times New Roman', serif" font-size="26.5" fill="#111" text-anchor="middle" textLength="91.6" lengthAdjust="spacingAndGlyphs">TL (dB)</text>
</svg>
</body>
</html>
